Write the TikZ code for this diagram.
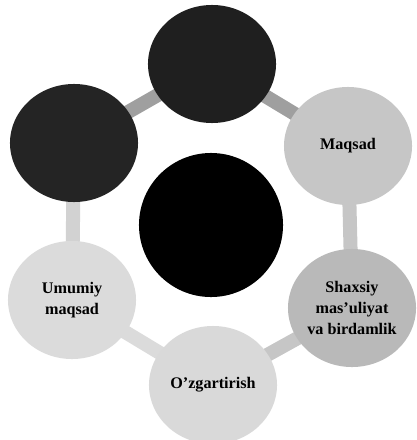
\documentclass[tikz,border=0pt]{standalone}
\usepackage{fontspec}
\setmainfont{Liberation Serif}
\usetikzlibrary{shapes.geometric, backgrounds}

\begin{document}
\begin{tikzpicture}[x=0.025cm, y=-0.025cm,
    bubble/.style={ellipse, minimum width=3.2cm, minimum height=2.95cm, inner sep=0pt, align=center, font=\bfseries\fontsize{11.5}{15}\selectfont},
    link/.style={line width=0.35cm}]
    % Frame
    \useasboundingbox (0,0) rectangle (416,440);

    % Centre circle
    \node[circle, fill=black, minimum size=3.6cm] (hub) at (211,225) {};

    % Outer circles
    \node[bubble, fill=black!88] (top) at (212,64) {};
    \node[bubble, fill=black!86] (lefttop) at (74,143) {};
    \node[bubble, fill=gray!45] (maqsad) at (348,146) {Maqsad};
    \node[bubble, fill=gray!55] (shaxsiy) at (352,308) {Shaxsiy\\mas'uliyat\\va birdamlik};
    \node[bubble, fill=gray!30] (ozgar) at (213,385) {O'zgartirish};
    \node[bubble, fill=gray!28] (umumiy) at (72,300) {Umumiy\\maqsad};

    % Ring of links behind the circles
    \begin{scope}[on background layer]
        \draw[link, gray!75] (lefttop.center) -- (top.center);
        \draw[link, gray!75] (top.center) -- (maqsad.center);
        \draw[link, gray!45] (maqsad.center) -- (shaxsiy.center);
        \draw[link, gray!45] (shaxsiy.center) -- (ozgar.center);
        \draw[link, gray!28] (ozgar.center) -- (umumiy.center);
        \draw[link, gray!35] (umumiy.center) -- (lefttop.center);
    \end{scope}
\end{tikzpicture}
\end{document}
